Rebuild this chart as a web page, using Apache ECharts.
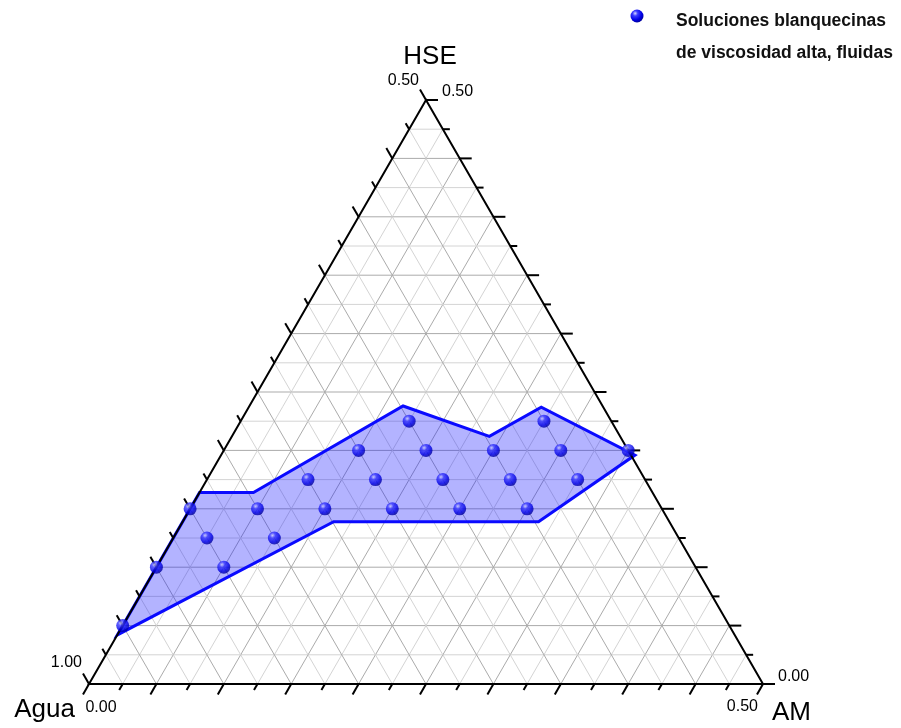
<!DOCTYPE html>
<html>
<head>
<meta charset="utf-8">
<script src="https://cdn.jsdelivr.net/npm/echarts@6/dist/echarts.min.js"></script>
<style>
  html, body { margin: 0; padding: 0; background: #ffffff; }
  #chart { width: 901px; height: 728px; }
</style>
</head>
<body>
<div id="chart"></div>
<script>
// Mass fractions of the studied mixtures; Agua = 1 - AM - HSE
const pointAM  = [0.000, 0.000, 0.050, 0.025, 0.075, 0.000, 0.050, 0.100, 0.150, 0.200, 0.250,
                  0.075, 0.125, 0.175, 0.225, 0.275, 0.100, 0.150, 0.200, 0.250, 0.300, 0.125, 0.225];
const pointHSE = [0.050, 0.100, 0.100, 0.125, 0.125, 0.150, 0.150, 0.150, 0.150, 0.150, 0.150,
                  0.175, 0.175, 0.175, 0.175, 0.175, 0.200, 0.200, 0.200, 0.200, 0.200, 0.225, 0.225];

// Outline of the region of whitish, high-viscosity fluid solutions
const regionAM  = [0.000, 0.000, 0.040, 0.114, 0.191, 0.217, 0.307, 0.264, 0.112];
const regionHSE = [0.042, 0.164, 0.164, 0.238, 0.212, 0.237, 0.196, 0.139, 0.139];

// Axis texts
const axisNames      = ['Agua', 'AM', 'HSE'];
const amTickLabels   = ['0.00', '0.50'];
const aguaTickLabels = ['1.00', '0.50'];
const hseTickLabels  = ['0.00', '0.50'];
const legendLines    = ['Soluciones blanquecinas', 'de viscosidad alta, fluidas'];

// Each side spans 0.5 in its component, divided in 20 steps
const SPAN = 0.5;
const STEPS = 20;

// (AM, HSE) -> cartesian plane of the equilateral triangle
function tern(am, hse) { return [am + hse / 2, hse]; }

const FONT = '"Liberation Sans", Arial, sans-serif';

function sphere() {
  return new echarts.graphic.RadialGradient(0.36, 0.3, 0.72, [
    { offset: 0,    color: '#d6d8ff' },
    { offset: 0.28, color: '#3a3aff' },
    { offset: 0.7,  color: '#0000e6' },
    { offset: 1,    color: '#00009a' }
  ]);
}

// grid line specs: [family, k]
const gridData = [];
for (let k = 1; k < STEPS; k++) {
  gridData.push([0, k], [1, k], [2, k]);
}

function renderGrid(params, api) {
  const fam = api.value(0), k = api.value(1);
  const t = k * SPAN / STEPS;
  let p1, p2;
  if (fam === 0) {          // constant HSE
    p1 = tern(0, t); p2 = tern(SPAN - t, t);
  } else if (fam === 1) {   // constant AM
    p1 = tern(t, 0); p2 = tern(t, SPAN - t);
  } else {                  // constant Agua
    p1 = tern(t, 0); p2 = tern(0, t);
  }
  const a = api.coord(p1), b = api.coord(p2);
  const major = k % 2 === 0;
  return {
    type: 'line',
    shape: { x1: a[0], y1: a[1], x2: b[0], y2: b[1] },
    style: { stroke: major ? '#ababab' : '#d4d4d4', lineWidth: 1 },
    silent: true
  };
}

function renderRegion(params, api) {
  const pts = regionAM.map((am, i) => api.coord(tern(am, regionHSE[i])));
  return {
    type: 'polygon',
    shape: { points: pts },
    style: { fill: 'rgba(20,20,255,0.32)', stroke: '#0a0aff', lineWidth: 3, lineJoin: 'miter' },
    silent: true
  };
}

function renderFrame(params, api) {
  const A = api.coord(tern(0, 0));
  const B = api.coord(tern(SPAN, 0));
  const C = api.coord(tern(0, SPAN));
  const children = [];
  const blk = '#000000';
  const s3 = Math.sqrt(3) / 2;

  children.push({
    type: 'polygon',
    shape: { points: [A, B, C] },
    style: { fill: 'none', stroke: blk, lineWidth: 2 }
  });

  for (let k = 0; k <= STEPS; k++) {
    const t = k * SPAN / STEPS;
    const len = k % 2 === 0 ? 12 : 7;
    // AM axis (bottom side): ticks point down-left
    const pa = api.coord(tern(t, 0));
    children.push({ type: 'line', shape: { x1: pa[0], y1: pa[1], x2: pa[0] - 0.5 * len, y2: pa[1] + s3 * len },
      style: { stroke: blk, lineWidth: 2 } });
    // Agua axis (left side): ticks point up-left
    const pl = api.coord(tern(0, t));
    children.push({ type: 'line', shape: { x1: pl[0], y1: pl[1], x2: pl[0] - 0.5 * len, y2: pl[1] - s3 * len },
      style: { stroke: blk, lineWidth: 2 } });
    // HSE axis (right side): ticks point right
    const pr = api.coord(tern(SPAN - t, t));
    children.push({ type: 'line', shape: { x1: pr[0], y1: pr[1], x2: pr[0] + len, y2: pr[1] },
      style: { stroke: blk, lineWidth: 2 } });
  }

  function txt(text, x, y, size, align, vAlign) {
    children.push({
      type: 'text',
      style: { text: text, x: x, y: y, fontSize: size, fontFamily: FONT, fill: '#000',
               align: align, verticalAlign: vAlign }
    });
  }
  const tf = 16;
  txt(amTickLabels[0], A[0] + 12, A[1] + 24, tf, 'center', 'middle');
  txt(amTickLabels[1], B[0] - 5, B[1] + 23, tf, 'right', 'middle');
  txt(aguaTickLabels[0], A[0] - 7, A[1] - 21, tf, 'right', 'middle');
  txt(aguaTickLabels[1], C[0] - 7, C[1] - 19, tf, 'right', 'middle');
  txt(hseTickLabels[0], B[0] + 15, B[1] - 7, tf, 'left', 'middle');
  txt(hseTickLabels[1], C[0] + 16, C[1] - 8, tf, 'left', 'middle');

  const nf = 26;
  txt(axisNames[0], A[0] - 14, A[1] + 26, nf, 'right', 'middle');
  txt(axisNames[1], B[0] + 9, B[1] + 29, nf, 'left', 'middle');
  txt(axisNames[2], C[0] + 4, C[1] - 43, nf, 'center', 'middle');

  return { type: 'group', children: children, silent: true };
}

const chart = echarts.init(document.getElementById('chart'), null, { renderer: 'canvas' });

chart.setOption({
  animation: false,
  backgroundColor: '#ffffff',
  grid: { left: 89, right: 138, top: 100, bottom: 44, containLabel: false },
  xAxis: { type: 'value', min: 0, max: SPAN, show: false },
  yAxis: { type: 'value', min: 0, max: SPAN, show: false },
  series: [
    { type: 'custom', name: 'grid', renderItem: renderGrid, data: gridData, z: 1, silent: true },
    { type: 'custom', name: 'region', renderItem: renderRegion, data: [[0, 0]], z: 2, silent: true },
    { type: 'custom', name: 'frame', renderItem: renderFrame, data: [[0, 0]], z: 3, silent: true },
    {
      type: 'scatter',
      name: legendLines.join(' '),
      data: pointAM.map((am, i) => tern(am, pointHSE[i])),
      symbol: 'circle',
      symbolSize: 13,
      itemStyle: { color: sphere() },
      z: 4
    }
  ],
  graphic: [
    { type: 'circle', shape: { cx: 637, cy: 16, r: 6.5 }, style: { fill: sphere() } },
    { type: 'text', style: { text: legendLines[0], x: 676, y: 21, fontSize: 17.5, fontWeight: 'bold',
        fontFamily: FONT, fill: '#111', verticalAlign: 'middle' } },
    { type: 'text', style: { text: legendLines[1], x: 676, y: 53, fontSize: 17.5, fontWeight: 'bold',
        fontFamily: FONT, fill: '#111', verticalAlign: 'middle' } }
  ]
});
</script>
</body>
</html>
